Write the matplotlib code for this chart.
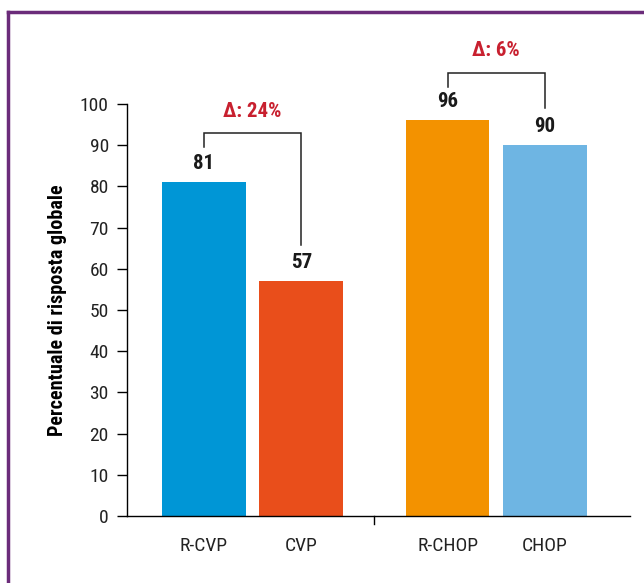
import matplotlib
matplotlib.use("Agg")
import matplotlib.pyplot as plt
from matplotlib.lines import Line2D

plt.rcParams["font.family"] = ["Roboto Condensed", "Archivo Narrow", "Liberation Sans", "DejaVu Sans"]

# Data
categories = ["R-CVP", "CVP", "R-CHOP", "CHOP"]
values = [81, 57, 96, 90]
colors = ["#0096D6", "#E94E1B", "#F39200", "#6EB5E3"]
positions = [0, 1, 2.5, 3.5]
deltas = ["\u0394: 24%", "\u0394: 6%"]
y_ticks = list(range(0, 101, 10))
y_label = "Percentuale di risposta globale"

fig = plt.figure(figsize=(6.44, 5.83), dpi=100)
ax = fig.add_axes([0.197, 0.1149, 0.781, 0.7067])

ax.bar(positions, values, width=0.86, color=colors, zorder=2)
ax.set_xlim(-0.79, 4.37)
ax.set_ylim(0, 100)

ax.spines["top"].set_visible(False)
ax.spines["right"].set_visible(False)
ax.spines["left"].set_linewidth(1.0)
ax.spines["bottom"].set_linewidth(1.0)
ax.spines["left"].set_bounds(0, 100)

ax.set_yticks(y_ticks)
ax.tick_params(axis="y", length=7, width=1, labelsize=14, pad=6, direction="out",
               labelcolor="#222222")
ax.set_xticks(positions)
ax.set_xticklabels(categories)
ax.tick_params(axis="x", length=0, labelsize=14, pad=15, labelcolor="#222222")

# group separator tick below the baseline
ax.plot([1.75, 1.75], [0, -2.0], color="black", lw=1, clip_on=False)

ax.set_ylabel(y_label, fontsize=14.5, fontweight="bold", labelpad=9)

# value labels
for x, v in zip(positions, values):
    ax.text(x, v + 4.6, str(v), ha="center", va="center", fontsize=15,
            fontweight="bold", color="#1a1a1a")

# comparison brackets
def bracket(x1, x2, y1, y2, top, label):
    ax.plot([x1, x1, x2, x2], [y1, top, top, y2], color="#222222", lw=1.1,
            clip_on=False, solid_joinstyle="miter")
    ax.text((x1 + x2) / 2, top + 5.3, label, ha="center", va="center",
            fontsize=15, fontweight="bold", color="#C8202F")

bracket(positions[0], positions[1], values[0] + 8.5, values[1] + 8.8, 93, deltas[0])
bracket(positions[2], positions[3], values[2] + 8.2, values[3] + 9.0, 107.6, deltas[1])

# frame around the figure
fig.add_artist(Line2D([8 / 644, 8 / 644], [0, 1 - 12 / 583], transform=fig.transFigure,
                      color="#6B2C7A", lw=2.5))
fig.add_artist(Line2D([8 / 644, 1], [1 - 12 / 583, 1 - 12 / 583], transform=fig.transFigure,
                      color="#6B2C7A", lw=2.5))

fig.savefig("out.png", dpi=100)
